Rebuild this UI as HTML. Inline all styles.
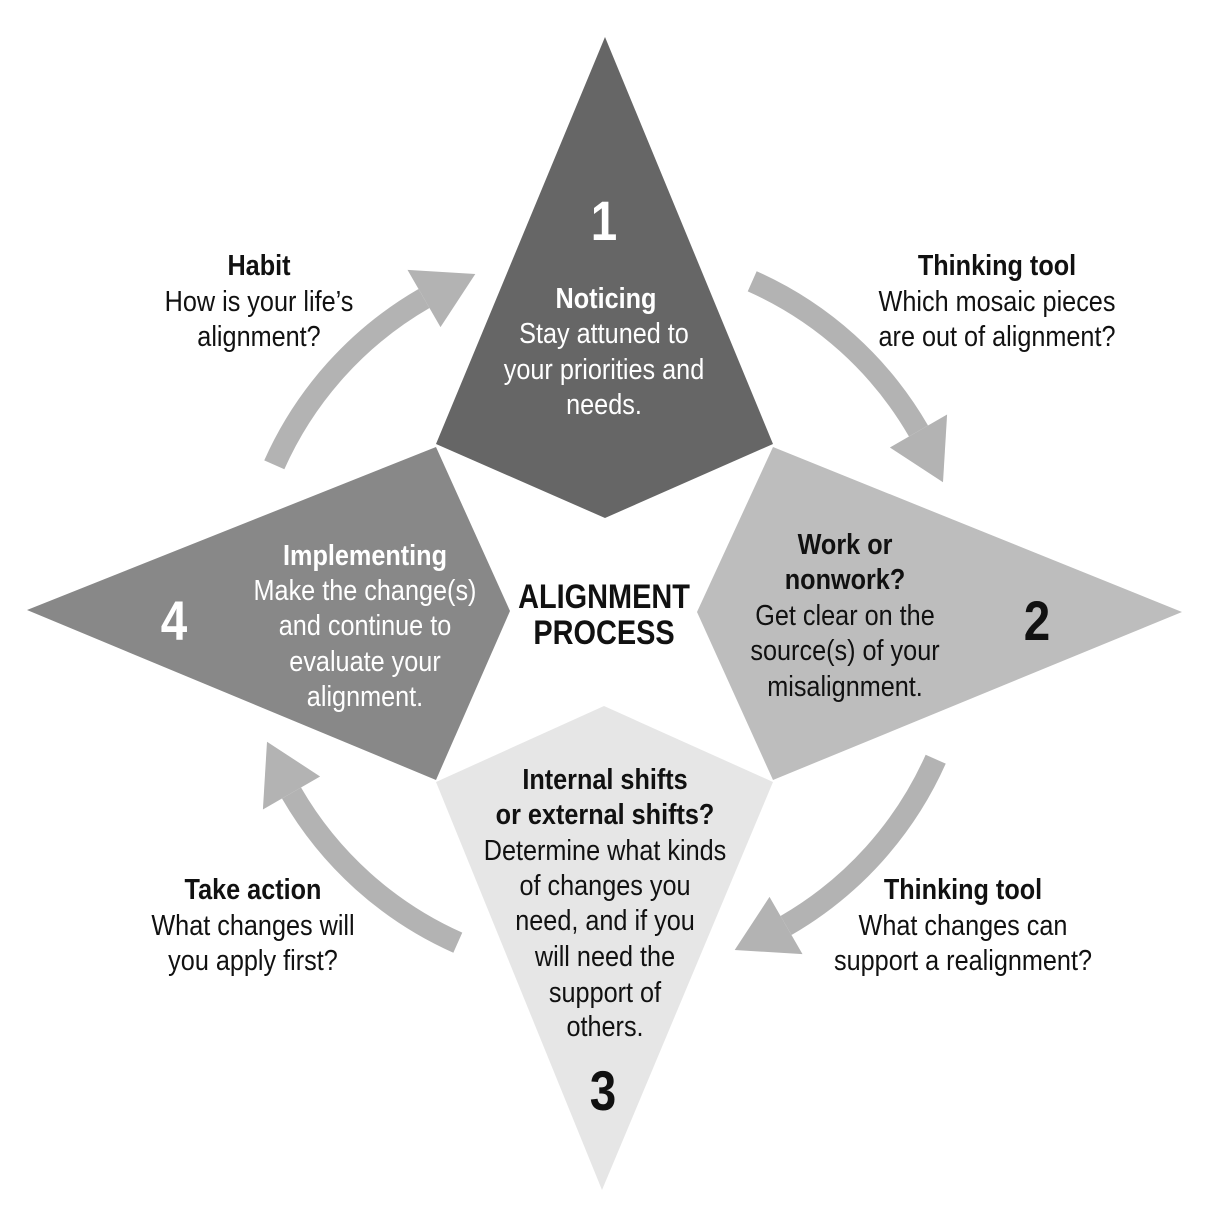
<!DOCTYPE html>
<html><head><meta charset="utf-8"><style>
html,body{margin:0;padding:0;background:#fff}
svg{display:block}
text{font-family:"Liberation Sans Narrow","Liberation Sans",sans-serif;text-anchor:middle;font-size:29px}
.b{font-weight:bold}
.w{fill:#fff}
.k{fill:#111}
</style></head><body>
<svg width="1213" height="1216" viewBox="0 0 1213 1216" xmlns="http://www.w3.org/2000/svg">
<rect width="1213" height="1216" fill="#fff"/>
<polygon points="605,37 773,444 605,518 436,444" fill="#666"/>
<polygon points="27,610 436,447 510,611 436,780" fill="#888"/>
<polygon points="1182,612 773,447 697,612 773,780" fill="#bdbdbd"/>
<polygon points="602,1190 436,782 604,706 773,782" fill="#e6e6e6"/>
<g fill="none" stroke="#b3b3b3" stroke-width="22">
<path d="M274.3,464.8 A362 362 0 0 1 424,298.5"/>
<path d="M752.2,281.3 A362 362 0 0 1 918.5,431"/>
<path d="M935.7,759.2 A362 362 0 0 1 786,925.5"/>
<path d="M457.8,942.7 A362 362 0 0 1 291.5,793"/>
</g>
<g fill="#b3b3b3">
<polygon points="440.5,327.1 407.5,269.9 475.3,274"/>
<polygon points="889.9,447.5 947.1,414.5 943,482.3"/>
<polygon points="769.5,896.9 802.5,954.1 734.7,950"/>
<polygon points="320.1,776.5 262.9,809.5 267,741.7"/>
</g>
<g class="w">
<text class="b" transform="translate(604,240) scale(0.85,1)" style="font-size:56px">1</text>
<text class="b" transform="translate(606,308) scale(0.87,1)">Noticing</text>
<text transform="translate(604,343) scale(0.87,1)">Stay attuned to</text>
<text transform="translate(604,379) scale(0.87,1)">your priorities and</text>
<text transform="translate(604,414) scale(0.87,1)">needs.</text>
<text class="b" transform="translate(174,640) scale(0.85,1)" style="font-size:56px">4</text>
<text class="b" transform="translate(365,565) scale(0.87,1)">Implementing</text>
<text transform="translate(365,600) scale(0.87,1)">Make the change(s)</text>
<text transform="translate(365,635) scale(0.87,1)">and continue to</text>
<text transform="translate(365,671) scale(0.87,1)">evaluate your</text>
<text transform="translate(365,706) scale(0.87,1)">alignment.</text>
</g>
<g class="k">
<text class="b" transform="translate(259,275) scale(0.87,1)">Habit</text>
<text transform="translate(259,311) scale(0.87,1)">How is your life’s</text>
<text transform="translate(259,346) scale(0.87,1)">alignment?</text>
<text class="b" transform="translate(997,275) scale(0.87,1)">Thinking tool</text>
<text transform="translate(997,311) scale(0.87,1)">Which mosaic pieces</text>
<text transform="translate(997,346) scale(0.87,1)">are out of alignment?</text>
<text class="b" transform="translate(604,608) scale(0.85,1)" style="font-size:34px">ALIGNMENT</text>
<text class="b" transform="translate(604,644) scale(0.85,1)" style="font-size:34px">PROCESS</text>
<text class="b" transform="translate(845,554) scale(0.87,1)">Work or</text>
<text class="b" transform="translate(845,589) scale(0.87,1)">nonwork?</text>
<text transform="translate(845,625) scale(0.87,1)">Get clear on the</text>
<text transform="translate(845,660) scale(0.87,1)">source(s) of your</text>
<text transform="translate(845,696) scale(0.87,1)">misalignment.</text>
<text class="b" transform="translate(1037,640) scale(0.85,1)" style="font-size:56px">2</text>
<text class="b" transform="translate(605,789) scale(0.87,1)">Internal shifts</text>
<text class="b" transform="translate(605,824) scale(0.87,1)">or external shifts?</text>
<text transform="translate(605,860) scale(0.87,1)">Determine what kinds</text>
<text transform="translate(605,895) scale(0.87,1)">of changes you</text>
<text transform="translate(605,930) scale(0.87,1)">need, and if you</text>
<text transform="translate(605,966) scale(0.87,1)">will need the</text>
<text transform="translate(605,1002) scale(0.87,1)">support of</text>
<text transform="translate(605,1036) scale(0.87,1)">others.</text>
<text class="b" transform="translate(603,1110) scale(0.85,1)" style="font-size:56px">3</text>
<text class="b" transform="translate(253,899) scale(0.87,1)">Take action</text>
<text transform="translate(253,935) scale(0.87,1)">What changes will</text>
<text transform="translate(253,970) scale(0.87,1)">you apply first?</text>
<text class="b" transform="translate(963,899) scale(0.87,1)">Thinking tool</text>
<text transform="translate(963,935) scale(0.87,1)">What changes can</text>
<text transform="translate(963,970) scale(0.87,1)">support a realignment?</text>
</g>
</svg>
</body></html>
